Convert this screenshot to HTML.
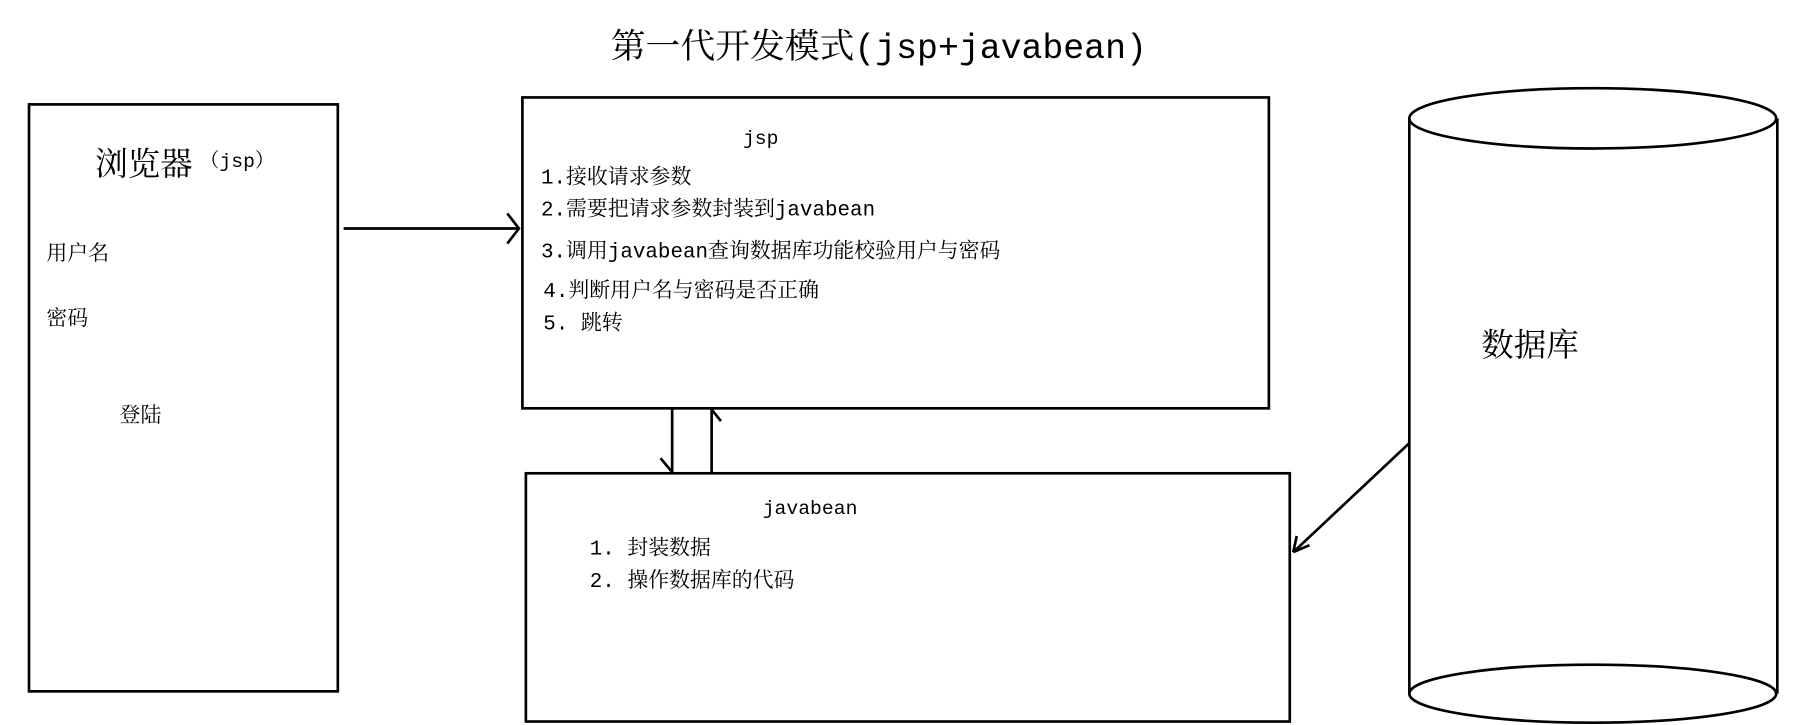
<!DOCTYPE html>
<html><head><meta charset="utf-8"><style>
html,body{margin:0;padding:0;background:#fff;}
svg{display:block;}
text{font-family:"Liberation Mono","Noto Serif CJK SC","Noto Sans CJK SC",monospace;fill:#000;}
</style></head><body>
<svg width="1811" height="725" viewBox="0 0 1560 625" preserveAspectRatio="none" xmlns="http://www.w3.org/2000/svg">
<g fill="none" stroke="#000" stroke-width="2.3">
<rect x="25" y="90" width="266" height="506"/>
<rect x="450" y="84" width="643" height="268"/>
<rect x="453" y="408" width="658" height="214"/>
<path d="M1214 102 V598 M1531 102 V598"/>
<ellipse cx="1372" cy="102" rx="158" ry="26"/>
<ellipse cx="1372" cy="598" rx="158" ry="25"/>
<path d="M296 197 H447 M437 184 L447 197 L437 210"/>
<path d="M579 352 V407 M569 395 L579 407"/>
<path d="M613 407 V353 M613 353 L621 363"/>
<path d="M1214 382 L1114 476 M1114 476 L1117 462 M1114 476 L1128 470"/>
</g>
<text x="757" y="50" font-size="30" text-anchor="middle">第一代开发模式(jsp+javabean)</text>
<text x="82" y="151" font-size="28">浏览器</text>
<text x="172" y="144" font-size="17">（jsp）</text>
<text x="40" y="224" font-size="18">用户名</text>
<text x="40" y="280" font-size="18">密码</text>
<text x="103" y="364" font-size="18">登陆</text>
<text x="640" y="124" font-size="17">jsp</text>
<text x="466" y="158" font-size="18">1.接收请求参数</text>
<text x="466" y="186" font-size="18">2.需要把请求参数封装到javabean</text>
<text x="466" y="222" font-size="18">3.调用javabean查询数据库功能校验用户与密码</text>
<text x="468" y="256" font-size="18">4.判断用户名与密码是否正确</text>
<text x="468" y="284" font-size="18">5.  跳转</text>
<text x="657" y="443" font-size="17">javabean</text>
<text x="508" y="478" font-size="18">1.  封装数据</text>
<text x="508" y="506" font-size="18">2.  操作数据库的代码</text>
<text x="1276" y="307" font-size="28">数据库</text>
</svg>
</body></html>
